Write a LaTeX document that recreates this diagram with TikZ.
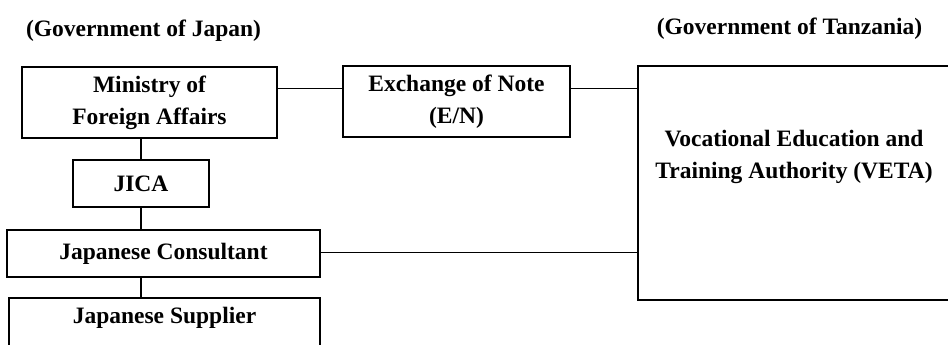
\documentclass[tikz,border=0pt]{standalone}
\usepackage{fontspec}
\setmainfont{Liberation Serif}
\usetikzlibrary{calc}
\begin{document}
\begin{tikzpicture}[x=1pt,y=-1pt,
  txt/.style={font=\fontsize{23.5}{32}\selectfont\bfseries},
  box/.style={draw,line width=1.8pt,minimum width=#1,inner sep=0pt,align=center,txt},
  title/.style={txt,inner sep=0pt},
  conn/.style={line width=1pt},
  vconn/.style={line width=1.6pt}]
\useasboundingbox (0,0) rectangle (948,345);
\node[title] (tj) at (143.5,31) {(Government of Japan)};
\node[title] (tt) at (789.5,29) {(Government of Tanzania)};
\node[box=255pt,minimum height=71pt] (ministry) at (149.5,102.5) {Ministry of\\Foreign Affairs};
\node[box=227pt,minimum height=71pt] (exchange) at (456.5,101.5) {Exchange of Note\\(E/N)};
\node[box=136pt,minimum height=47pt] (jica) at (141,183.5) {JICA};
\node[box=313pt,minimum height=47pt] (cons) at (163.5,253.5) {Japanese Consultant};
\node[box=312pt,minimum height=234pt] (veta) at (794,183) {};
\node[txt,align=center,inner sep=0pt] (vetatext) at (794,157) {Vocational Education and\\Training Authority (VETA)};
\node[inner sep=0pt,minimum width=311pt,minimum height=60pt] (sup) at (164.5,328) {};
\node[txt,inner sep=0pt] (suptext) at (164.5,318) {Japanese Supplier};
\draw[line width=1.8pt] (sup.south west) -- (sup.north west) -- (sup.north east) -- (sup.south east);
\coordinate (m1) at ($(ministry.north east)!0.31!(ministry.south east)$);
\draw[conn] (m1) -- (m1 -| exchange.west);
\draw[conn] (m1 -| exchange.east) -- (m1 -| veta.west);
\draw[vconn] (jica.north) -- (jica.north |- ministry.south);
\draw[vconn] (jica.south) -- (jica.south |- cons.north);
\draw[vconn] (jica.south |- cons.south) -- (jica.south |- sup.north);
\draw[conn] (cons.east |- 0,252) -- (veta.west |- 0,252);
\end{tikzpicture}
\end{document}
